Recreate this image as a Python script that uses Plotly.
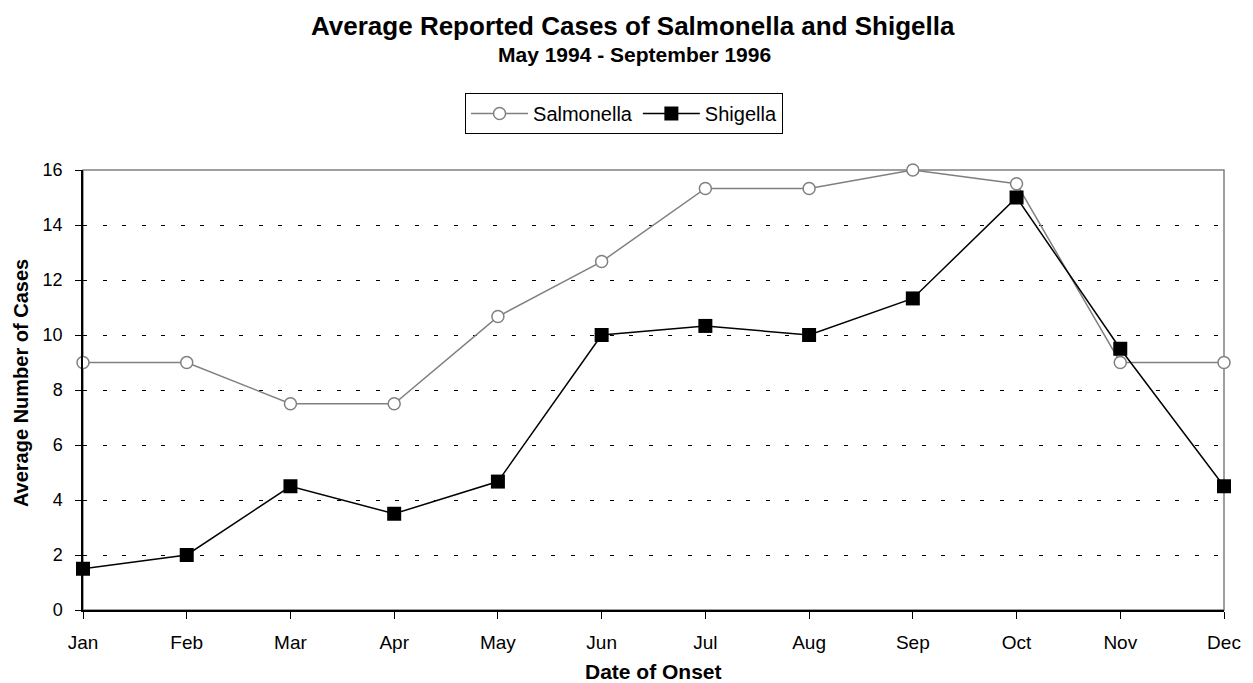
import plotly.graph_objects as go

months = ["Jan", "Feb", "Mar", "Apr", "May", "Jun", "Jul", "Aug", "Sep", "Oct", "Nov", "Dec"]
salmonella = [9, 9, 7.5, 7.5, 10.67, 12.67, 15.33, 15.33, 16, 15.5, 9, 9]
shigella = [1.5, 2, 4.5, 3.5, 4.67, 10, 10.33, 10, 11.33, 15, 9.5, 4.5]
y_ticks = [0, 2, 4, 6, 8, 10, 12, 14, 16]

FONT = "Liberation Sans, Arial, sans-serif"
L, R, T, B = 83, 27, 170, 73
W, H = 1253, 683
pw, ph = W - L - R, H - T - B

def px_x(x):
    return (x - L) / pw

def px_y(y):
    return (H - B - y) / ph

xi = list(range(len(months)))

fig = go.Figure()
fig.add_trace(go.Scatter(
    x=xi, y=salmonella, name="Salmonella", mode="lines+markers",
    line=dict(color="#808080", width=1.5),
    marker=dict(symbol="circle", size=12, color="white", line=dict(color="#808080", width=1.5)),
    cliponaxis=False,
))
fig.add_trace(go.Scatter(
    x=xi, y=shigella, name="Shigella", mode="lines+markers",
    line=dict(color="black", width=1.5),
    marker=dict(symbol="square", size=14, color="black", line=dict(color="black", width=0)),
    cliponaxis=False,
))

fig.add_shape(type="rect", xref="paper", yref="paper", x0=0, y0=0, x1=1, y1=1,
              line=dict(color="#808080", width=1.5), layer="below")

fig.update_layout(
    width=W, height=H,
    margin=dict(l=L, r=R, t=T, b=B),
    paper_bgcolor="white", plot_bgcolor="white",
    font=dict(family=FONT, size=19, color="black"),
    showlegend=True,
    legend=dict(orientation="h", x=px_x(625), xanchor="center", y=px_y(93), yanchor="top",
                bordercolor="black", borderwidth=1, bgcolor="white",
                font=dict(family=FONT, size=20, color="black"),
                itemwidth=57, tracegroupgap=0),
    xaxis=dict(
        range=[0, len(months) - 1], tickmode="array", tickvals=xi, ticktext=months,
        showline=True, linecolor="black", linewidth=1.5,
        ticks="outside", ticklen=7, tickcolor="black", tickwidth=1,
        showgrid=False, zeroline=False, ticklabelstandoff=7,
        tickfont=dict(family=FONT, size=19),
    ),
    yaxis=dict(
        range=[0, 16], tickmode="array", tickvals=y_ticks,
        showline=True, linecolor="black", linewidth=1.5,
        ticks="outside", ticklen=6, tickcolor="black", tickwidth=1,
        showgrid=True, gridcolor="black", gridwidth=1, griddash="4px,15.5px",
        zeroline=False, ticklabelstandoff=9,
        tickfont=dict(family=FONT, size=18),
    ),
    annotations=[
        dict(text="<b>Average Reported Cases of Salmonella and Shigella</b>", xref="paper", yref="paper",
             x=px_x(634), y=px_y(26), xanchor="center", yanchor="middle", showarrow=False,
             font=dict(family=FONT, size=26)),
        dict(text="<b>May 1994 - September 1996</b>", xref="paper", yref="paper",
             x=px_x(635), y=px_y(55), xanchor="center", yanchor="middle", showarrow=False,
             font=dict(family=FONT, size=21)),
        dict(text="<b>Date of Onset</b>", xref="paper", yref="paper",
             x=px_x(654), y=px_y(671), xanchor="center", yanchor="middle", showarrow=False,
             font=dict(family=FONT, size=21)),
        dict(text="<b>Average Number of Cases</b>", xref="paper", yref="paper",
             x=px_x(21), y=px_y(383), xanchor="center", yanchor="middle", showarrow=False,
             textangle=-90, font=dict(family=FONT, size=20)),
    ],
)

fig.write_html("out.html")
